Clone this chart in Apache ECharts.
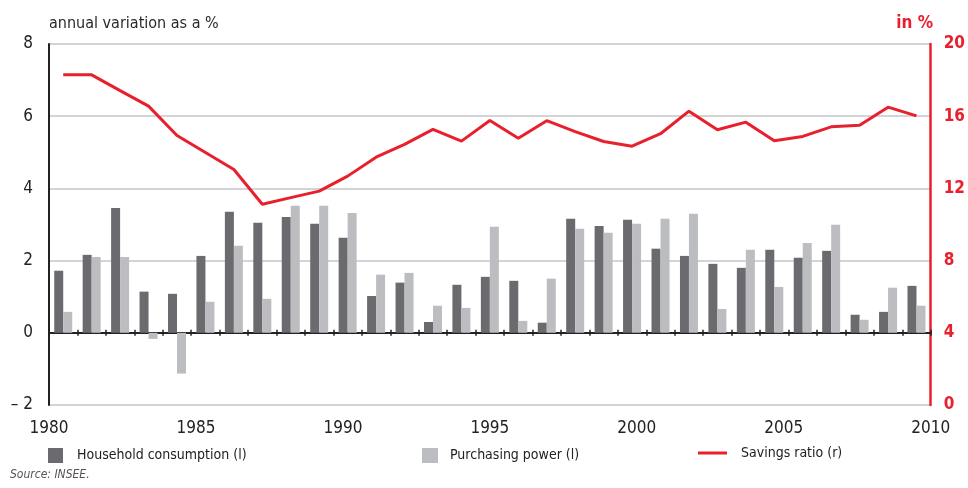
<!DOCTYPE html>
<html>
<head>
<meta charset="utf-8">
<script src="https://cdn.jsdelivr.net/npm/echarts@6/dist/echarts.min.js"></script>
<style>
  html, body { margin: 0; padding: 0; background: #fff; }
  #chart { width: 968px; height: 488px; }
</style>
</head>
<body>
<div id="chart"></div>
<script>
// years 1980 .. 2010
let years = []
for (let y = 1980; y <= 2010; y++) years.push(String(y))

let consumption = [1.72, 2.16, 3.46, 1.14, 1.08, 2.13, 3.35, 3.05, 3.21, 3.02,
  2.63, 1.02, 1.39, 0.30, 1.33, 1.55, 1.44, 0.28, 3.16, 2.96,
  3.13, 2.33, 2.13, 1.91, 1.80, 2.30, 2.08, 2.27, 0.50, 0.58, 1.30]
let purchasing = [0.58, 2.10, 2.10, -0.17, -1.13, 0.86, 2.41, 0.94, 3.52, 3.52,
  3.32, 1.61, 1.66, 0.75, 0.69, 2.94, 0.33, 1.50, 2.88, 2.77,
  3.02, 3.16, 3.30, 0.66, 2.30, 1.27, 2.49, 2.99, 0.36, 1.25, 0.75]
let savings = [18.29, 18.29, 17.42, 16.56, 14.93, 13.99, 13.05, 11.12, 11.49, 11.85,
  12.68, 13.73, 14.44, 15.27, 14.62, 15.76, 14.78, 15.75, 15.15, 14.60,
  14.34, 15.03, 16.28, 15.25, 15.67, 14.64, 14.88, 15.41, 15.50, 16.50, 16.02]

let font = "'Liberation Sans Narrow', 'DejaVu Sans Condensed', 'Liberation Sans', sans-serif"
let red = '#e8202d'
let dark = '#6b6b6f'
let light = '#bcbdc1'

let myChart = echarts.init(document.getElementById('chart'))

let zeroAxis = {
  type: 'category',
  data: years,
  position: 'bottom',
  axisLine: { onZero: true, onZeroAxisIndex: 0, lineStyle: { color: '#222', width: 2 } },
  axisTick: { show: true, interval: 0, length: 3, lineStyle: { color: '#222', width: 1.5 } },
  axisLabel: { show: false },
  splitLine: { show: false }
}

let option = {
  animation: false,
  textStyle: { fontFamily: font },
  grid: { left: 49, right: 30, top: 44, bottom: 83, containLabel: false },
  legend: [
    {
      data: ['Household consumption (l)'],
      left: 48, top: 448, padding: 0,
      itemWidth: 15, itemHeight: 15, icon: 'rect',
      textStyle: { fontFamily: font, fontSize: 14, color: '#222', padding: [0, 0, 0, 9] }
    },
    {
      data: ['Purchasing power (l)'],
      left: 422, top: 448, padding: 0,
      itemWidth: 16, itemHeight: 15, icon: 'rect',
      textStyle: { fontFamily: font, fontSize: 14, color: '#222', padding: [0, 0, 0, 7] }
    },
    {
      data: [{ name: 'Savings ratio (r)', icon: 'rect' }],
      left: 698, top: 446, padding: 0,
      itemWidth: 29, itemHeight: 3,
      textStyle: { fontFamily: font, fontSize: 14, color: '#222', padding: [0, 0, 0, 9] }
    }
  ],
  graphic: [
    {
      type: 'text', left: 49, top: 16,
      style: { text: 'annual variation as a %', fontFamily: font, fontSize: 16, fill: '#2a2a2a' }
    },
    {
      type: 'text', right: 35, top: 15,
      style: { text: 'in %', fontFamily: font, fontSize: 17, fontWeight: 'bold', fill: red }
    },
    {
      type: 'text', left: 10, top: 469,
      style: { text: 'Source: INSEE.', fontFamily: font, fontSize: 12, fontStyle: 'italic', fill: '#555' }
    }
  ],
  xAxis: [
    zeroAxis,
    Object.assign({}, zeroAxis, {
      axisLine: { show: false, onZero: true, onZeroAxisIndex: 0 },
      axisTick: { show: true, inside: true, interval: 0, length: 3, lineStyle: { color: '#222', width: 1.5 } }
    }),
    {
      // year labels on the bottom edge
      type: 'value',
      min: 1980,
      max: 2010,
      interval: 5,
      position: 'bottom',
      axisLine: { show: false, onZero: false },
      axisTick: { show: false },
      splitLine: { show: false },
      axisLabel: {
        color: '#222',
        fontSize: 17,
        margin: 15,
        formatter: function (v) {
          return String(v)
        }
      }
    }
  ],
  yAxis: [
    {
      type: 'value',
      min: -2,
      max: 8,
      interval: 2,
      axisLine: { show: true, lineStyle: { color: '#222', width: 2 } },
      axisTick: { show: false },
      axisLabel: {
        color: '#222',
        fontSize: 17,
        margin: 16,
        formatter: function (v) {
          return v < 0 ? '\u2013 ' + Math.abs(v) : String(v)
        }
      },
      splitLine: { lineStyle: { color: '#c6c6ca', width: 1.5 } }
    },
    {
      type: 'value',
      min: 0,
      max: 20,
      interval: 4,
      position: 'right',
      axisLine: { show: true, lineStyle: { color: red, width: 2.5 } },
      axisTick: { show: false },
      axisLabel: { color: red, fontSize: 17, fontWeight: 'bold', margin: 13 },
      splitLine: { show: false }
    }
  ],
  series: [
    {
      name: 'Household consumption (l)',
      type: 'bar',
      xAxisIndex: 0,
      yAxisIndex: 0,
      data: consumption,
      barWidth: 9,
      barGap: '0%',
      itemStyle: { color: dark }
    },
    {
      name: 'Purchasing power (l)',
      type: 'bar',
      xAxisIndex: 0,
      yAxisIndex: 0,
      data: purchasing,
      barWidth: 9,
      barGap: '0%',
      itemStyle: { color: light }
    },
    {
      name: 'Savings ratio (r)',
      type: 'line',
      xAxisIndex: 0,
      yAxisIndex: 1,
      data: savings,
      symbol: 'none',
      z: 5,
      lineStyle: { color: red, width: 3 },
      itemStyle: { color: red }
    }
  ]
}

myChart.setOption(option)
</script>
</body>
</html>
